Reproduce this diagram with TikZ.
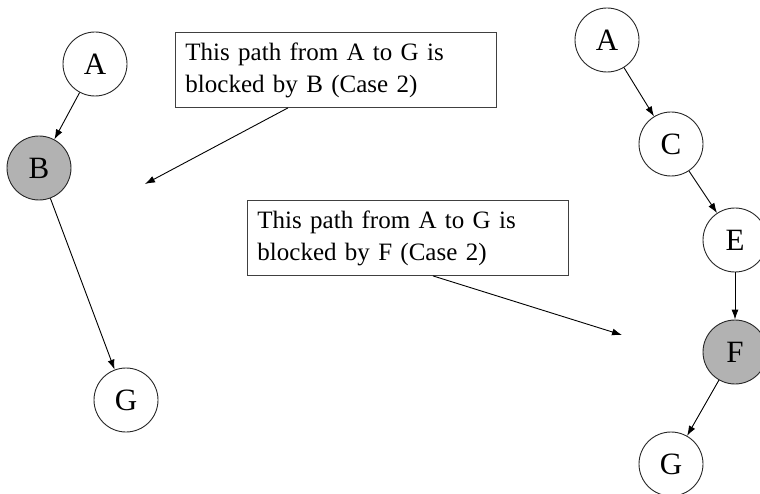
\documentclass[tikz,border=0pt]{standalone}
\usepackage{fontspec}
\setmainfont{Liberation Serif}
\usepackage{tikz}
\usetikzlibrary{arrows.meta}
\definecolor{blockgray}{gray}{0.7}

\begin{document}
\begin{tikzpicture}[x=1pt,y=-1pt,
    var/.style={circle,draw=black!85,line width=0.9pt,minimum size=64pt,inner sep=0pt,font=\fontsize{31}{37}\selectfont},
    given/.style={var,fill=blockgray},
    note/.style={draw=black!75,line width=0.9pt,anchor=north west,text width=301pt,inner xsep=10pt,minimum height=75pt,align=left,font=\fontsize{25}{32}\selectfont},
    link/.style={-{Latex[length=10pt,width=7pt]},line width=0.9pt}]
  \useasboundingbox (0,0) rectangle (760,494);
  % left path
  \draw (95,64) node[var] (A) {A};
  \draw (39,168) node[given] (B) {B};
  \draw (126,400) node[var] (G) {G};
  % right path
  \draw (607,40) node[var] (A2) {A};
    \draw (671,144) node[var] (C) {C};
      \draw (735,240) node[var] (E) {E};
      \draw (735,352) node[given] (F) {F};
    \draw (671,464) node[var] (G2) {G};
  % notes
  \draw (175,32) node[note] (note1) {This path from A to G is\\blocked by B (Case 2)};
  \draw (247,200) node[note] (note2) {This path from A to G is\\blocked by F (Case 2)};
  \coordinate (tip1) at (145,184);
  \coordinate (tip2) at (622,335);

       \path[link] (A) edge (B);
       \path[link] (B) edge (G);
       \path[link] (A2) edge (C);
       \path[link] (C) edge (E);
       \path[link] (E) edge (F);
       \path[link] (F) edge (G2);
       \path[link] ([xshift=-48pt]note1.south) edge (tip1);
       \path[link] ([xshift=25pt]note2.south) edge (tip2);
\end{tikzpicture}
\end{document}
